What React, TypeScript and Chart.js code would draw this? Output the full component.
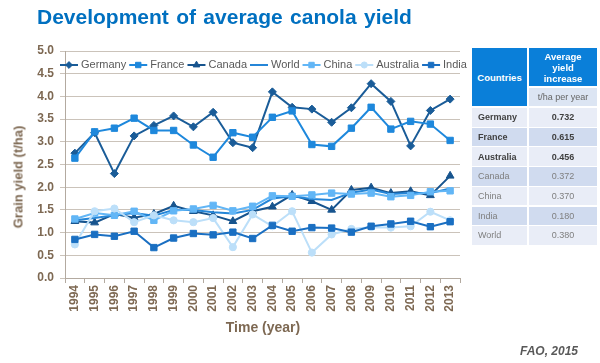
import React, { useEffect, useRef } from "react";
import { Chart, registerables } from "chart.js";

Chart.register(...registerables);

const FONT = '"Liberation Sans", Arial, Helvetica, sans-serif';
const BROWN = "#7d6852";

const years = [
  "1994", "1995", "1996", "1997", "1998", "1999", "2000", "2001", "2002", "2003",
  "2004", "2005", "2006", "2007", "2008", "2009", "2010", "2011", "2012", "2013",
];

const germany = [2.75, 3.2, 2.3, 3.13, 3.36, 3.57, 3.33, 3.65, 2.98, 2.87, 4.1, 3.76, 3.72, 3.43, 3.75, 4.28, 3.89, 2.91, 3.69, 3.94];
const france = [2.64, 3.22, 3.3, 3.52, 3.25, 3.25, 2.93, 2.66, 3.2, 3.1, 3.54, 3.68, 2.94, 2.9, 3.3, 3.76, 3.28, 3.45, 3.39, 3.03];
const canada = [1.25, 1.22, 1.41, 1.33, 1.41, 1.59, 1.47, 1.38, 1.25, 1.47, 1.57, 1.83, 1.69, 1.5, 1.94, 1.99, 1.87, 1.91, 1.82, 2.25];
const world = [1.27, 1.32, 1.38, 1.43, 1.37, 1.5, 1.5, 1.45, 1.42, 1.5, 1.75, 1.8, 1.74, 1.72, 1.88, 1.95, 1.85, 1.87, 1.87, 1.97];
const china = [1.3, 1.43, 1.38, 1.47, 1.27, 1.48, 1.52, 1.6, 1.48, 1.58, 1.81, 1.8, 1.83, 1.87, 1.85, 1.87, 1.79, 1.82, 1.9, 1.92];
const australia = [0.74, 1.47, 1.53, 1.23, 1.38, 1.27, 1.23, 1.32, 0.68, 1.4, 1.14, 1.47, 0.56, 0.96, 1.08, 1.12, 1.11, 1.14, 1.46, 1.27];
const india = [0.85, 0.96, 0.92, 1.03, 0.67, 0.88, 0.98, 0.95, 1.01, 0.87, 1.16, 1.03, 1.11, 1.1, 1.01, 1.14, 1.19, 1.25, 1.13, 1.24];

const seriesNames = ["Germany", "France", "Canada", "World", "China", "Australia", "India"];
const seriesData = [germany, france, canada, world, china, australia, india];
const seriesColors = ["#1a5c98", "#1e88dc", "#17548e", "#2586d8", "#62b6f6", "#bcdff9", "#1a6fc2"];
const seriesMarkers = ["rectRot", "rect", "triangle", "none", "rect", "circle", "rect"];
const seriesMarkerSizes = [4, 4.5, 4.5, 0, 4.5, 3.6, 4.5];

const yTicks = [0, 0.5, 1, 1.5, 2, 2.5, 3, 3.5, 4, 4.5, 5];

const tableCountries = ["Germany", "France", "Australia", "Canada", "China", "India", "World"];
const tableValues = ["0.732", "0.615", "0.456", "0.372", "0.370", "0.180", "0.380"];
const tableBold = [true, true, true, false, false, false, false];

function drawMarker(ctx: CanvasRenderingContext2D, style: string, x: number, y: number, r: number, color: string) {
  ctx.save();
  ctx.fillStyle = color;
  ctx.strokeStyle = color;
  ctx.lineWidth = 1;
  ctx.beginPath();
  if (style === "rect") {
    const s = r * Math.SQRT1_2;
    ctx.rect(x - s, y - s, 2 * s, 2 * s);
  } else if (style === "rectRot") {
    ctx.moveTo(x, y - r);
    ctx.lineTo(x + r, y);
    ctx.lineTo(x, y + r);
    ctx.lineTo(x - r, y);
    ctx.closePath();
  } else if (style === "triangle") {
    let rad = 0;
    ctx.moveTo(x + Math.sin(rad) * r, y - Math.cos(rad) * r);
    rad += (2 * Math.PI) / 3;
    ctx.lineTo(x + Math.sin(rad) * r, y - Math.cos(rad) * r);
    rad += (2 * Math.PI) / 3;
    ctx.lineTo(x + Math.sin(rad) * r, y - Math.cos(rad) * r);
    ctx.closePath();
  } else {
    ctx.arc(x, y, r, 0, Math.PI * 2);
  }
  ctx.fill();
  ctx.stroke();
  ctx.restore();
}

const lineLegend = {
  id: "lineLegend",
  afterDraw(chart: any) {
    const ctx: CanvasRenderingContext2D = chart.ctx;
    ctx.save();
    ctx.font = `11px ${FONT}`;
    ctx.textBaseline = "middle";
    ctx.textAlign = "left";
    let x = 60;
    const y = 65;
    seriesNames.forEach((name, i) => {
      ctx.strokeStyle = seriesColors[i];
      ctx.lineWidth = 2;
      ctx.beginPath();
      ctx.moveTo(x, y);
      ctx.lineTo(x + 18, y);
      ctx.stroke();
      if (seriesMarkers[i] !== "none") {
        drawMarker(ctx, seriesMarkers[i], x + 9, y, seriesMarkerSizes[i] * 0.85, seriesColors[i]);
      }
      ctx.fillStyle = "#595959";
      ctx.fillText(name, x + 21, y);
      x += 21 + ctx.measureText(name).width + 3;
    });
    ctx.restore();
  },
};

export default function App() {
  const canvasRef = useRef<HTMLCanvasElement | null>(null);

  useEffect(() => {
    if (!canvasRef.current) return;
    const n = seriesNames.length;
    const chart = new Chart(canvasRef.current, {
      type: "line",
      data: {
        labels: years,
        datasets: seriesNames.map((name, i) => ({
          label: name,
          data: seriesData[i],
          borderColor: seriesColors[i],
          backgroundColor: seriesColors[i],
          borderWidth: 2,
          tension: 0,
          fill: false,
          pointStyle: seriesMarkers[i] === "none" ? "circle" : (seriesMarkers[i] as any),
          pointRadius: seriesMarkerSizes[i],
          pointBorderWidth: 1,
          pointBackgroundColor: seriesColors[i],
          pointBorderColor: seriesColors[i],
          order: n - 1 - i,
        })),
      },
      options: {
        responsive: false,
        animation: false,
        devicePixelRatio: 1,
        layout: { padding: { top: 51, right: 140, bottom: 0, left: 0 } },
        plugins: {
          legend: { display: false },
          tooltip: { enabled: false },
          title: { display: false },
        },
        scales: {
          x: {
            type: "category",
            offset: true,
            grid: {
              offset: true,
              drawOnChartArea: false,
              tickLength: 5,
              color: "#b3aaa0",
            },
            border: { color: "#b3aaa0", width: 1 },
            ticks: {
              autoSkip: false,
              minRotation: 90,
              maxRotation: 90,
              padding: 2,
              color: BROWN,
              font: { family: FONT, size: 12, weight: "bold" },
            },
            afterFit: (s: any) => {
              s.height = 85;
            },
          },
          y: {
            min: 0,
            max: 5,
            afterBuildTicks: (s: any) => {
              s.ticks = yTicks.map((v) => ({ value: v }));
            },
            ticks: {
              padding: 6,
              color: BROWN,
              font: { family: FONT, size: 12, weight: "bold" },
              callback: (v: any) => Number(v).toFixed(1),
            },
            grid: { color: "#cbc3ba", tickLength: 5, lineWidth: 1 },
            border: { color: "#b3aaa0", width: 1 },
            afterFit: (s: any) => {
              s.width = 65;
            },
          },
        },
      } as any,
      plugins: [lineLegend],
    });
    return () => chart.destroy();
  }, []);

  const rowTop = 108;
  const rowStep = 19.7;
  const lightBg = "#e9edf7";
  const darkBg = "#d0dbef";
  const headBlue = "#0a7fd9";

  const cell = (left: number, top: number, w: number, h: number, bg: string, content: React.ReactNode, style: React.CSSProperties = {}) => (
    <div
      style={{
        position: "absolute",
        left,
        top,
        width: w,
        height: h,
        background: bg,
        display: "flex",
        alignItems: "center",
        ...style,
      }}
    >
      {content}
    </div>
  );

  return (
    <div
      style={{
        position: "absolute",
        left: 0,
        top: 0,
        width: 600,
        height: 363,
        background: "#ffffff",
        overflow: "hidden",
        fontFamily: FONT,
      }}
    >
      <canvas ref={canvasRef} width={600} height={363} style={{ position: "absolute", left: 0, top: 0, width: 600, height: 363, display: "block" }} />
      <div
        style={{
          position: "absolute",
          left: 37,
          top: 5,
          fontSize: 21,
          fontWeight: "bold",
          color: "#0070c0",
          wordSpacing: 1.5,
          whiteSpace: "nowrap",
          lineHeight: "24px",
        }}
      >
        Development of average canola yield
      </div>
      <div
        style={{
          position: "absolute",
          left: 17.5,
          top: 177,
          transform: "translate(-50%, -50%) rotate(-90deg)",
          fontSize: 13,
          fontWeight: "bold",
          color: BROWN,
          whiteSpace: "nowrap",
        }}
      >
        Grain yield (t/ha)
      </div>
      <div
        style={{
          position: "absolute",
          left: 263,
          top: 327,
          transform: "translate(-50%, -50%)",
          fontSize: 14,
          fontWeight: "bold",
          color: BROWN,
          whiteSpace: "nowrap",
        }}
      >
        Time (year)
      </div>
      <div
        style={{
          position: "absolute",
          right: 22,
          top: 344,
          fontSize: 12,
          fontWeight: "bold",
          fontStyle: "italic",
          color: "#595959",
          whiteSpace: "nowrap",
        }}
      >
        FAO, 2015
      </div>

      {cell(472, 48, 55, 58, headBlue, <span style={{ width: "100%", textAlign: "center" }}>Countries</span>, {
        color: "#ffffff",
        fontWeight: "bold",
        fontSize: 9.5,
      })}
      {cell(
        529,
        48,
        68,
        38,
        headBlue,
        <span style={{ width: "100%", textAlign: "center", lineHeight: "11px" }}>
          Average
          <br />
          yield
          <br />
          increase
        </span>,
        { color: "#ffffff", fontWeight: "bold", fontSize: 9.5 }
      )}
      {cell(529, 88, 68, 18, "#dce5f3", <span style={{ width: "100%", textAlign: "center" }}>t/ha per year</span>, {
        color: "#666666",
        fontSize: 9,
      })}
      {tableCountries.map((c, i) => {
        const top = rowTop + i * rowStep;
        const bg = i % 2 === 0 ? lightBg : darkBg;
        const color = tableBold[i] ? "#404040" : "#7f7f7f";
        const fw = tableBold[i] ? "bold" : "normal";
        return (
          <React.Fragment key={c}>
            {cell(472, top, 55, rowStep - 1.2, bg, <span style={{ paddingLeft: 6 }}>{c}</span>, {
              color,
              fontWeight: fw,
              fontSize: 9,
            })}
            {cell(529, top, 68, rowStep - 1.2, bg, <span style={{ width: "100%", textAlign: "center" }}>{tableValues[i]}</span>, {
              color,
              fontWeight: fw,
              fontSize: 9,
            })}
          </React.Fragment>
        );
      })}
    </div>
  );
}
